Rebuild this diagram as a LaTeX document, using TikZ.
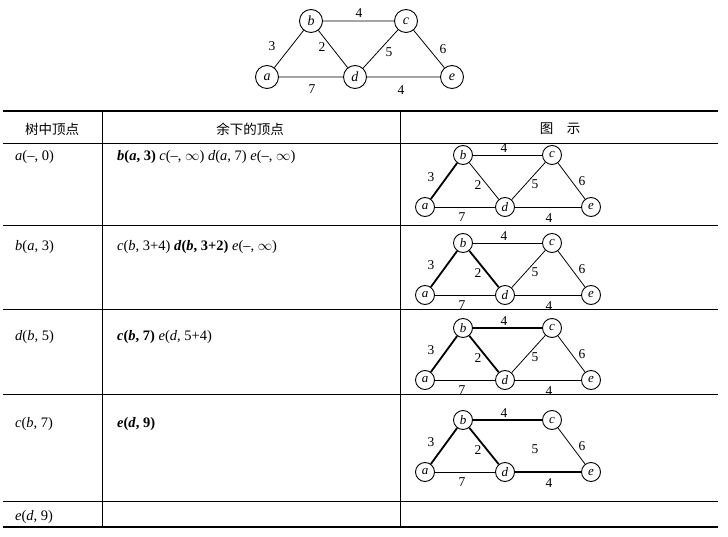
\documentclass[tikz,border=0pt]{standalone}
\usepackage{fontspec}
\setmainfont{Liberation Serif}
\newfontfamily\cjk{Noto Sans CJK SC}
\begin{document}
\newcommand\bi[1]{\textbf{\textit{#1}}}
\newcommand\smallgraph[7]{%
\begin{scope}[shift={(425,#2)}]
\node[sv] (#1a) at (0,0) {\textit{a}};
\node[sv] (#1b) at (38,-52) {\textit{b}};
\node[sv] (#1c) at (127,-52) {\textit{c}};
\node[sv] (#1d) at (80,0) {\textit{d}};
\node[sv] (#1e) at (166,0) {\textit{e}};
\draw[#3] (#1a)--(#1b);
\draw[#4] (#1b)--(#1d);
\draw[#5] (#1b)--(#1c);
\draw[#6] (#1d)--(#1e);
\draw[#7] (#1c)--(#1d);
\draw[ed] (#1a)--(#1d);
\draw[ed] (#1c)--(#1e);
\node[lb] (#1l3) at (6,-30) {3};
\node[lb] (#1l2) at (53,-22) {2};
\node[lb] (#1l4t) at (79,-59) {4};
\node[lb] (#1l5) at (110,-23) {5};
\node[lb] (#1l6) at (157,-26) {6};
\node[lb] (#1l7) at (37,10) {7};
\node[lb] (#1l4b) at (124,11) {4};
\end{scope}}
\begin{tikzpicture}[x=1pt,y=-1pt,
  sv/.style={circle,draw,line width=0.9pt,minimum size=19pt,inner sep=0pt,font=\fontsize{13}{13}\selectfont},
  bv/.style={circle,draw,line width=0.9pt,minimum size=23pt,inner sep=0pt,font=\fontsize{14}{14}\selectfont},
  ed/.style={line width=0.8pt},
  bd/.style={line width=1.8pt},
  no/.style={draw=none},
  lb/.style={inner sep=0pt,font=\fontsize{13.5}{13.5}\selectfont},
  tx/.style={anchor=west,inner sep=0pt,font=\fontsize{14.5}{15}\selectfont},
  hd/.style={inner sep=0pt,font=\cjk\fontsize{13.5}{14}\selectfont},
  rl/.style={line width=0.8pt},
  tl/.style={line width=2pt}]
\useasboundingbox (0,0) rectangle (728,537);
% top graph
\node[bv] (a) at (267,77) {\textit{a}};
\node[bv] (b) at (311,21) {\textit{b}};
\node[bv] (c) at (406,21) {\textit{c}};
\node[bv] (d) at (355,77) {\textit{d}};
\node[bv] (e) at (452,77) {\textit{e}};
\draw[ed] (a)--(b) (b)--(c) (b)--(d) (c)--(d) (c)--(e) (a)--(d) (d)--(e);
\node[lb] (t4) at (359,13) {4};
\node[lb] (t3) at (272,46) {3};
\node[lb] (t2) at (322,47) {2};
\node[lb] (t5) at (389,52) {5};
\node[lb] (t6) at (443,49) {6};
\node[lb] (t7) at (312,89) {7};
\node[lb] (t4b) at (401,90) {4};
% table
\draw[tl] (3,111)--(718,111);
\draw[rl] (3,143)--(718,143) (3,225)--(718,225) (3,309)--(718,309) (3,394)--(718,394) (3,501)--(718,501);
\draw[tl] (3,527)--(718,527);
\draw[rl] (102,111)--(102,527) (400,111)--(400,527);
\node[hd] (h1) at (52,129) {树中顶点};
\node[hd] (h2) at (250,129) {余下的顶点};
\node[hd] (h3) at (560,129) {图\quad 示};
\node[tx] (r1a) at (15,157) {\textit{a}(–, 0)};
\node[tx] (r1b) at (117,157) {\bi{b}\textbf{(}\bi{a}\textbf{, 3)} \textit{c}(–, $\infty$) \textit{d}(\textit{a}, 7) \textit{e}(–, $\infty$)};
\node[tx] (r2a) at (15,247) {\textit{b}(\textit{a}, 3)};
\node[tx] (r2b) at (117,247) {\textit{c}(\textit{b}, 3+4) \bi{d}\textbf{(}\bi{b}\textbf{, 3+2)} \textit{e}(–, $\infty$)};
\node[tx] (r3a) at (15,337) {\textit{d}(\textit{b}, 5)};
\node[tx] (r3b) at (117,337) {\bi{c}\textbf{(}\bi{b}\textbf{, 7)} \textit{e}(\textit{d}, 5+4)};
\node[tx] (r4a) at (15,424) {\textit{c}(\textit{b}, 7)};
\node[tx] (r4b) at (117,424) {\bi{e}\textbf{(}\bi{d}\textbf{, 9)}};
\node[tx] (r5a) at (15,517) {\textit{e}(\textit{d}, 9)};
\smallgraph{g1}{207}{bd}{ed}{ed}{ed}{ed}
\smallgraph{g2}{295}{bd}{bd}{ed}{ed}{ed}
\smallgraph{g3}{380}{bd}{bd}{bd}{ed}{ed}
\smallgraph{g4}{472}{bd}{bd}{bd}{bd}{no}
\end{tikzpicture}
\end{document}
